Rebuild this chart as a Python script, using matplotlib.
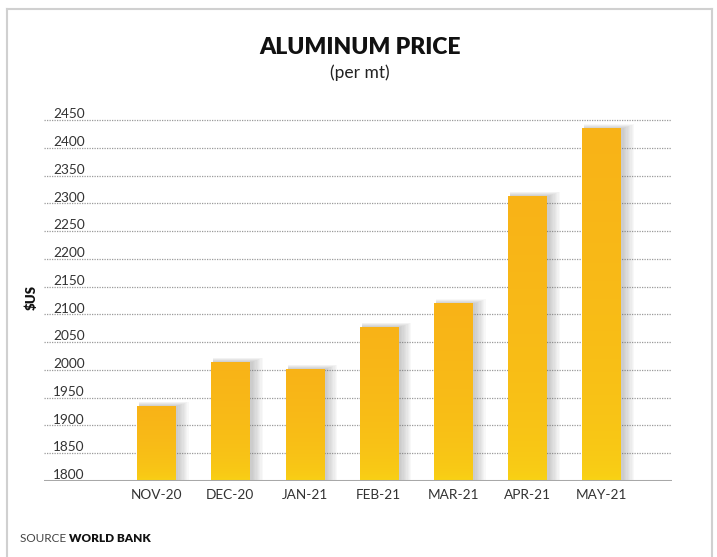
import matplotlib
matplotlib.use("Agg")
import matplotlib.pyplot as plt
import numpy as np
from matplotlib.colors import LinearSegmentedColormap
from matplotlib.patches import Rectangle

categories = ["NOV-20", "DEC-20", "JAN-21", "FEB-21", "MAR-21", "APR-21", "MAY-21"]
values = [1935, 2014, 2001, 2077, 2119, 2313, 2434]
yticks = [1800, 1850, 1900, 1950, 2000, 2050, 2100, 2150, 2200, 2250, 2300, 2350, 2400, 2450]

W, H = 717, 557
fig = plt.figure(figsize=(W / 100, H / 100), dpi=100)
fig.patch.set_facecolor("white")

# outer frame
fig.add_artist(plt.Line2D([7 / W, 7 / W], [0, 1 - 9 / H], color="#d0d0d0", lw=1.5))
fig.add_artist(plt.Line2D([7 / W, 712 / W], [1 - 9 / H, 1 - 9 / H], color="#d0d0d0", lw=1.5))
fig.add_artist(plt.Line2D([712 / W, 712 / W], [0, 1 - 9 / H], color="#d0d0d0", lw=1.5))

left_px, right_px, bottom_px, top_px = 44, 672, 481, 110
ax = fig.add_axes([left_px / W, 1 - bottom_px / H, (right_px - left_px) / W, (bottom_px - top_px) / H])
ax.set_facecolor("none")
for s in ax.spines.values():
    s.set_visible(False)

xlim = (-1.51, 6.95)
ylim = (1800, 2468)
ax.set_xlim(*xlim)
ax.set_ylim(*ylim)

px_x = (xlim[1] - xlim[0]) / (right_px - left_px)
px_y = (ylim[1] - ylim[0]) / (bottom_px - top_px)

# gridlines and tick labels
for t in yticks:
    if t != 1800:
        ax.axhline(t, color="#9a9a9a", lw=0.9, ls=(0, (1, 1)), zorder=1)
    ax.text(9 * px_x + xlim[0], t + 1.8 * px_y, str(t), ha="left", va="baseline",
            fontsize=9.8, color="#333333", family="Lato", zorder=5)

orange = np.array([0xF9, 0xB3, 0x18]) / 255
yellow = np.array([0xF8, 0xD7, 0x14]) / 255
tt = np.linspace(0, 1, 256)
w = tt ** 0.38
cols = yellow[None, :] * (1 - w[:, None]) + orange[None, :] * w[:, None]
cmap = LinearSegmentedColormap.from_list("grad", cols)
grad = np.linspace(0, 1, 256)[::-1].reshape(-1, 1)

bw = 0.512
x = np.arange(len(categories))
for xi, v in zip(x, values):
    # soft shadow
    for k in range(1, 10):
        ax.add_patch(Rectangle((xi - bw / 2 + 2 * px_x, 1800), bw + k * 1.3 * px_x,
                               v - 1800 + k * 0.5 * px_y,
                               facecolor="#707070", edgecolor="none", alpha=0.045, zorder=2))
    ax.imshow(grad, extent=(xi - bw / 2, xi + bw / 2, 1800, v), aspect="auto",
              cmap=cmap, vmin=0, vmax=1, zorder=3, interpolation="bilinear")

ax.set_xlim(*xlim)
ax.set_ylim(*ylim)
ax.axhline(1800, color="#a8a8a8", lw=2.2, zorder=4)

ax.set_yticks([])
ax.set_xticks(x)
ax.set_xticklabels(categories, fontsize=9.8, color="#333333", family="Lato")
ax.tick_params(axis="x", length=0, pad=6)

fig.text(360 / W, 1 - 47 / H, "ALUMINUM PRICE", ha="center", va="center",
         fontsize=16.5, fontweight="heavy", family="Lato", color="#111111")
fig.text(360 / W, 1 - 73 / H, "(per mt)", ha="center", va="center",
         fontsize=12.5, family="Lato", color="#222222")
fig.text(32 / W, 1 - 297 / H, "$US", ha="center", va="center", rotation=90,
         fontsize=9.5, fontweight="heavy", family="Lato", color="#111111")

t1 = fig.text(20 / W, 1 - 538 / H, "SOURCE ", ha="left", va="center",
              fontsize=8.5, family="Lato", color="#444444")
fig.canvas.draw()
ax.annotate("WORLD BANK", xy=(1, 0.5), xycoords=t1, ha="left", va="center",
            fontsize=8.5, fontweight="heavy", family="Lato", color="#111111",
            annotation_clip=False)

fig.savefig("out.png", dpi=100)
